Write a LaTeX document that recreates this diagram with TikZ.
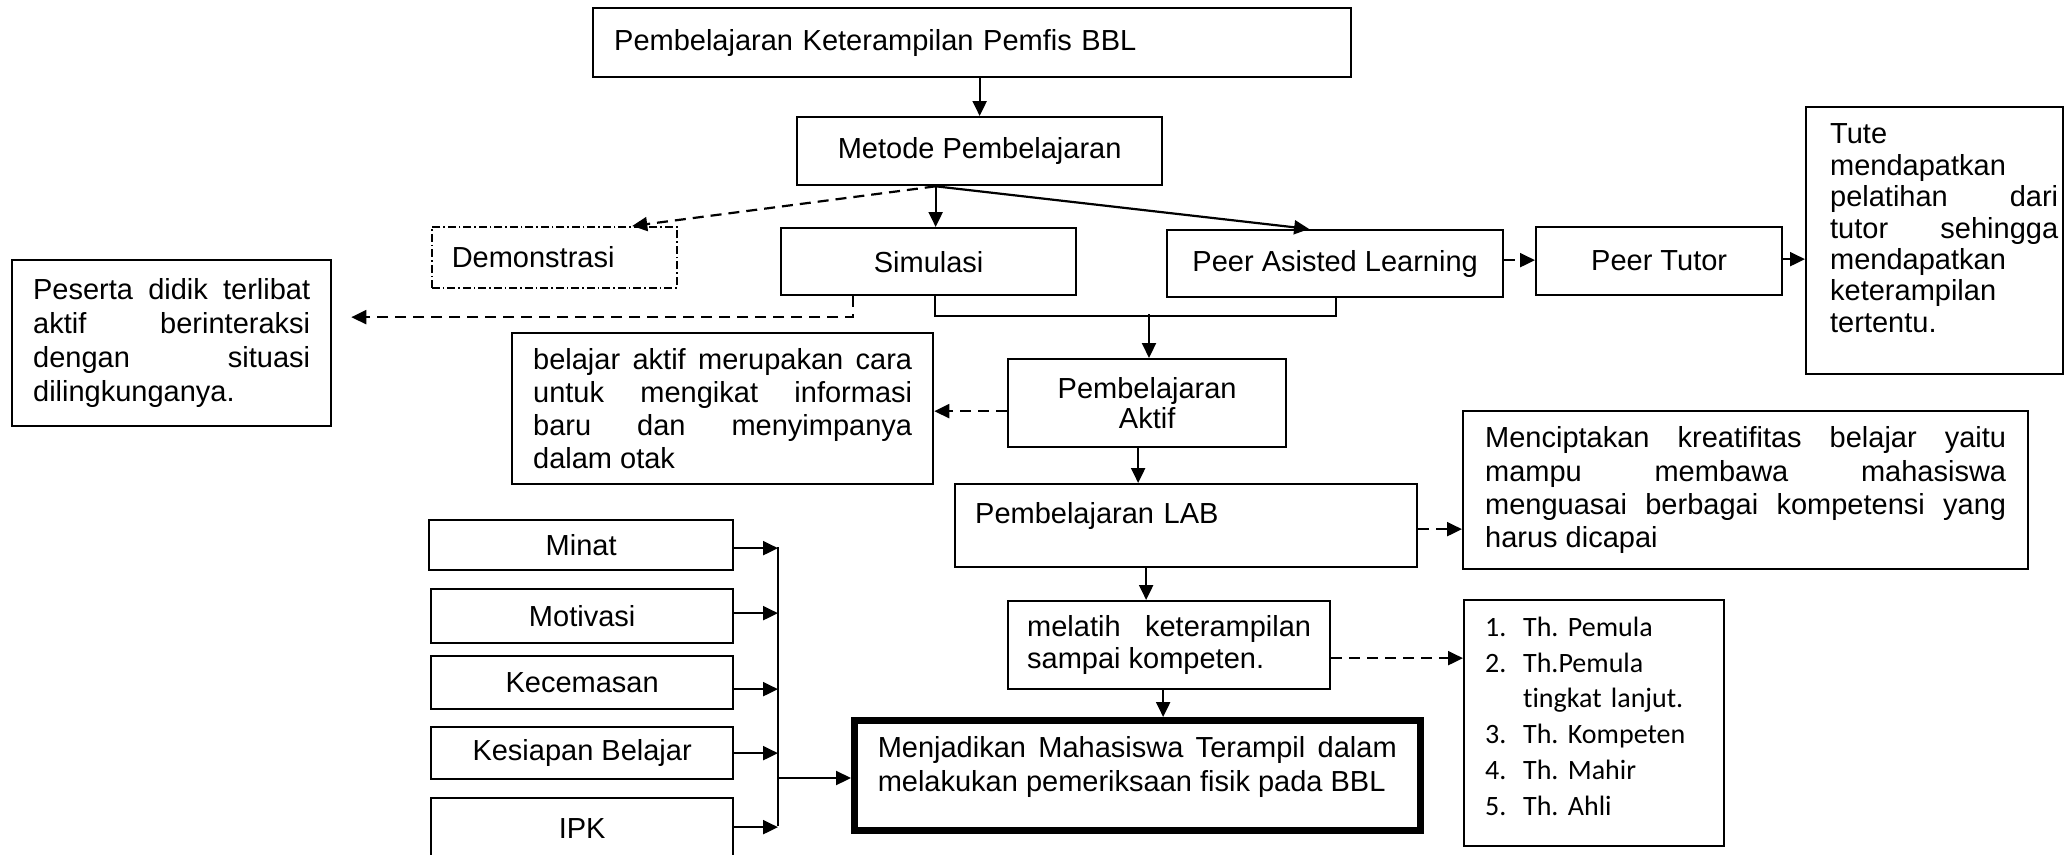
\documentclass[tikz,border=0pt]{standalone}
\usepackage{fontspec}
\setmainfont{Liberation Sans}
\newfontfamily\calfont{Carlito}[Ligatures=NoCommon]
\usetikzlibrary{arrows.meta}
\newcommand\jline[2]{\hbox to #1pt{\spaceskip=0.278em plus 1fil\relax #2}}
\newcommand\lline[2]{\hbox to #1pt{#2\hfil}}
\newcommand\fs[1]{\fontsize{29}{#1}\selectfont}
\newcommand\deep[1]{\rule[-#1pt]{0pt}{#1pt}}
\tikzset{
  box/.style={draw, line width=2.3pt, inner sep=0pt, anchor=north west, font=\fs{33.4}},
  demobox/.style={box, line width=1.5pt, dash pattern=on 8pt off 3pt on 1.5pt off 3pt},
  thickbox/.style={box, line width=6.5pt},
  plain/.style={line width=2.2pt},
  conn/.style={line width=2.2pt, -{Triangle[length=15pt,width=14pt]}},
  dconn/.style={conn, dash pattern=on 11pt off 7pt},
}
\begin{document}
\begin{tikzpicture}[x=1pt,y=-1pt]
\useasboundingbox (0,0) rectangle (2064,854);
% boxes
\node[box, minimum width=758pt, minimum height=69pt, text width=716pt, align=left] (top) at (592,7) {Pembelajaran Keterampilan Pemfis BBL};
\node[box, minimum width=365pt, minimum height=68pt] (metode) at (796,116) {Metode Pembelajaran};
\node[demobox, minimum width=245pt, minimum height=61pt, text width=205pt, align=left] (demo) at (431,226) {Demonstrasi};
\node[box, minimum width=295pt, minimum height=67pt] (sim) at (780,227) {Simulasi};
\node[box, minimum width=336pt, minimum height=67pt] (pal) at (1166,229) {Peer Asisted Learning};
\node[box, minimum width=246pt, minimum height=68pt] (tutor) at (1535,226) {Peer Tutor};
\node[box, minimum width=257pt, minimum height=267pt, align=left, font=\fs{31.4}] (tute) at (1805,106) {%
\hbox to 247pt{\hskip19pt\lline{228}{Tute}}\\
\hbox to 247pt{\hskip19pt\lline{228}{mendapatkan}}\\
\hbox to 247pt{\hskip19pt\jline{228}{pelatihan dari}}\\
\hbox to 247pt{\hskip19pt\jline{228}{tutor sehingga}}\\
\hbox to 247pt{\hskip19pt\lline{228}{mendapatkan}}\\
\hbox to 247pt{\hskip19pt\lline{228}{keterampilan}}\\
\hbox to 247pt{\hskip19pt\lline{228}{tertentu.}\deep{25}}};
\node[box, minimum width=319pt, minimum height=166pt, align=left, font=\fs{34}] (peserta) at (11,259) {%
\jline{277}{Peserta didik terlibat}\\
\jline{277}{aktif berinteraksi}\\
\jline{277}{dengan situasi}\\
\lline{277}{dilingkunganya.\deep{5}}};
\node[box, minimum width=421pt, minimum height=151pt, align=left, font=\fs{33.3}] (belajar) at (511,332) {%
\jline{379}{belajar aktif merupakan cara}\\
\jline{379}{untuk mengikat informasi}\\
\jline{379}{baru dan menyimpanya}\\
\lline{379}{dalam otak}};
\node[box, minimum width=278pt, minimum height=88pt, align=center, font=\fs{29.5}] (aktif) at (1007,358) {Pembelajaran\\Aktif};
\node[box, minimum width=462pt, minimum height=83pt, text width=422pt, align=left, text height=21pt, text depth=25pt] (lab) at (954,483) {Pembelajaran LAB};
\node[box, minimum width=565pt, minimum height=158pt, align=left, font=\fs{33.3}] (mencip) at (1462,410) {%
\jline{521}{Menciptakan kreatifitas belajar yaitu}\\
\jline{521}{mampu membawa mahasiswa}\\
\jline{521}{menguasai berbagai kompetensi yang}\\
\lline{521}{harus dicapai}};
\node[box, minimum width=322pt, minimum height=88pt, align=left, font=\fs{32}] (melatih) at (1007,600) {%
\jline{284}{melatih keterampilan}\\
\lline{284}{sampai kompeten.}};
\node[box, minimum width=260pt, minimum height=246pt, text width=218pt, align=left, font=\calfont\fontsize{28}{35.8}\selectfont\frenchspacing] (list) at (1463,599) {%
\makebox[38pt][l]{1.}Th. Pemula\\
\makebox[38pt][l]{2.}Th.Pemula\\
\makebox[38pt][l]{}tingkat lanjut.\\
\makebox[38pt][l]{3.}Th. Kompeten\\
\makebox[38pt][l]{4.}Th. Mahir\\
\makebox[38pt][l]{5.}Th. Ahli\deep{14}};
\node[thickbox, minimum width=566pt, minimum height=110pt, align=left, font=\fs{34}] (menj) at (851,717) {%
\jline{519}{Menjadikan Mahasiswa Terampil dalam}\\
\lline{519}{melakukan pemeriksaan fisik pada BBL\deep{22}}};
\node[box, minimum width=304pt, minimum height=50pt] (minat) at (428,519) {Minat};
\node[box, minimum width=302pt, minimum height=54pt] (motivasi) at (430,588) {Motivasi};
\node[box, minimum width=302pt, minimum height=53pt] (kecemasan) at (430,655) {Kecemasan};
\node[box, minimum width=302pt, minimum height=52pt] (kesiapan) at (430,726) {Kesiapan Belajar};
\node[box, minimum width=302pt, minimum height=60pt] (ipk) at (430,797) {IPK};
% connectors
\draw[conn] (top.south -| metode.north) -- (metode.north);
\coordinate (m0) at ([xshift=-44pt]metode.south);
\draw[dconn] (m0) -- ([xshift=78pt]demo.north);
\draw[conn] (m0) -- (m0 |- sim.north);
\draw[conn] (m0) -- ([xshift=-26pt]pal.north);
\draw[dconn] ([xshift=-75.5pt]sim.south) |- ([xshift=19pt,yshift=26pt]peserta.east);
\draw[plain] ([xshift=6.5pt]sim.south) -- ++(0,20) -| ([xshift=1pt]pal.south);
\coordinate (br) at (1149,314);
\draw[conn] (br) -- (br |- aktif.north);
\draw[dconn] ([yshift=-8pt]aktif.west) -- ([yshift=-8pt]aktif.west -| belajar.east);
\draw[conn] ([xshift=-9pt]aktif.south) -- ([xshift=-9pt]aktif.south |- lab.north);
\draw[dconn] ([yshift=-3.5pt]lab.east) -- ([yshift=-3.5pt]lab.east -| mencip.west);
\draw[conn] ([xshift=-40pt]lab.south) -- ([xshift=-40pt]lab.south |- melatih.north);
\draw[dconn] ([yshift=-13pt]melatih.east) -- ([yshift=-13pt]melatih.east -| list.west);
\draw[conn] ([xshift=-6pt]melatih.south) -- ([xshift=-6pt]melatih.south |- menj.north);
\draw[dconn] ([yshift=3.5pt]pal.east) -- ([yshift=3.5pt]pal.east -| tutor.west);
\draw[dconn] ([yshift=2pt]tutor.east) -- ([yshift=2pt]tutor.east -| tute.west);
% left group
\coordinate (bus) at (778,778);
\coordinate (bt) at (778,547);
\coordinate (bb) at (778,826);
\draw[plain] (bt) -- (bb);
\draw[conn] ([yshift=-3pt]minat.east) -- ([yshift=-3pt]minat.east -| bus);
\draw[conn] ([yshift=3pt]motivasi.east) -- ([yshift=3pt]motivasi.east -| bus);
\draw[conn] ([yshift=-6.5pt]kecemasan.east) -- ([yshift=-6.5pt]kecemasan.east -| bus);
\draw[conn] (kesiapan.east) -- (kesiapan.east -| bus);
\draw[conn] ([yshift=1pt]ipk.east) -- ([yshift=1pt]ipk.east -| bus);
\draw[conn] (bus) -- (bus -| menj.west);
\end{tikzpicture}
\end{document}
